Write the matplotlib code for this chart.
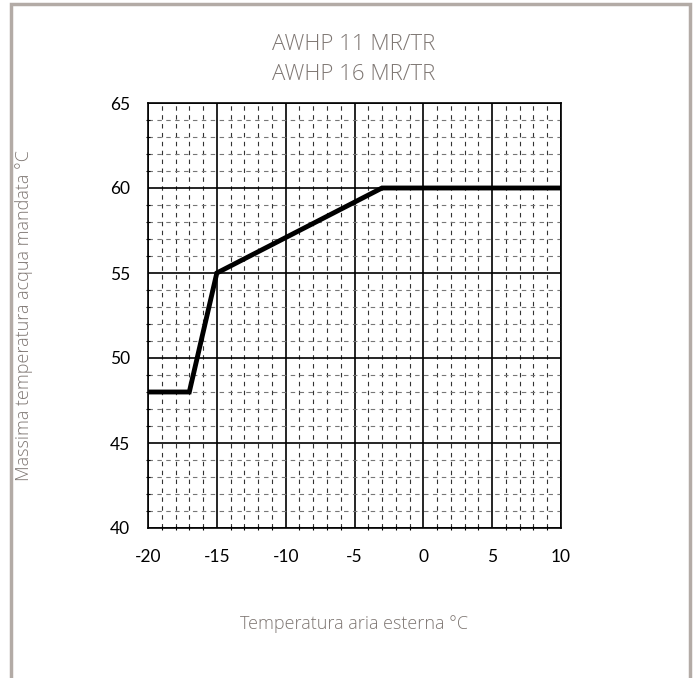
import matplotlib.pyplot as plt
from matplotlib.patches import Rectangle
from matplotlib.ticker import MultipleLocator

plt.rcParams['axes.unicode_minus'] = False

# Dati della curva
temp_esterna = [-20, -17, -15, -3, 10]
temp_mandata = [48, 48, 55, 60, 60]
x_ticks = [-20, -15, -10, -5, 0, 5, 10]
y_ticks = [40, 45, 50, 55, 60, 65]

grigio = '#7f7773'

fig = plt.figure(figsize=(6.99, 6.78), dpi=100)
ax = fig.add_axes([148 / 699, 1 - 528 / 678, (561 - 148) / 699, (528 - 103) / 678])

# Cornice esterna
fig.patches.append(Rectangle((11 / 699, -0.05), (690 - 11) / 699, 1.05 - 4 / 678,
                             transform=fig.transFigure, fill=False,
                             edgecolor='#b3aba6', linewidth=2.5))

ax.plot(temp_esterna, temp_mandata, color='black', linewidth=3.5, solid_joinstyle='miter', zorder=5)

ax.set_xlim(-20, 10)
ax.set_ylim(40, 65)
ax.set_xticks(x_ticks)
ax.set_yticks(y_ticks)
ax.xaxis.set_minor_locator(MultipleLocator(1))
ax.yaxis.set_minor_locator(MultipleLocator(1))

# Griglia principale e secondaria
ax.grid(which='major', color='black', linewidth=1.2, linestyle='-')
ax.grid(which='minor', axis='x', color='#333333', linewidth=0.8, linestyle=(0, (4, 4)))
ax.grid(which='minor', axis='y', color='#777777', linewidth=0.8, linestyle=(0, (4, 4)))
ax.set_axisbelow(True)

for s in ax.spines.values():
    s.set_linewidth(1.2)

ax.tick_params(which='major', length=0, labelsize=12.5)
ax.tick_params(axis='x', which='major', pad=15)
ax.tick_params(axis='y', which='major', pad=13)
ax.tick_params(which='minor', length=3, direction='inout', width=0.8)
for lab in ax.get_xticklabels() + ax.get_yticklabels():
    lab.set_family('Lato')

ax.set_xlabel('Temperatura aria esterna °C', fontsize=13, color=grigio,
              family='Open Sans', fontweight='light', labelpad=36)
ax.set_ylabel('Massima temperatura acqua mandata °C', fontsize=13, color=grigio,
              family='Open Sans', fontweight='light', labelpad=55)

fig.text(354 / 699, 1 - 45 / 678, 'AWHP 11 MR/TR', ha='center', va='center',
         fontsize=16, color=grigio, family='Open Sans', fontweight='light')
fig.text(354 / 699, 1 - 75 / 678, 'AWHP 16 MR/TR', ha='center', va='center',
         fontsize=16, color=grigio, family='Open Sans', fontweight='light')

plt.savefig('out.png', dpi=100)
